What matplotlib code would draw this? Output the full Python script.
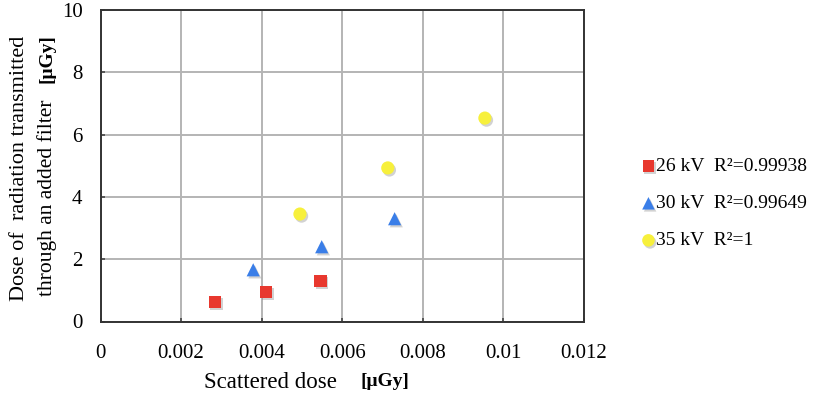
import matplotlib
matplotlib.use("Agg")
import matplotlib.pyplot as plt
import matplotlib.patheffects as pe

plt.rcParams['font.family'] = ['Liberation Serif', 'DejaVu Serif']

# Scattered dose (µGy) vs dose transmitted through the added filter (µGy)
x_26kv = [0.00284, 0.00411, 0.00546]
y_26kv = [0.63, 0.94, 1.30]
x_30kv = [0.00379, 0.00549, 0.00730]
y_30kv = [1.66, 2.40, 3.30]
x_35kv = [0.00495, 0.00713, 0.00954]
y_35kv = [3.45, 4.93, 6.53]

series_labels = ["26 kV  R²=0.99938", "30 kV  R²=0.99649", "35 kV  R²=1"]
x_ticks = [0, 0.002, 0.004, 0.006, 0.008, 0.01, 0.012]
x_tick_labels = ["0", "0.002", "0.004", "0.006", "0.008", "0.01", "0.012"]
y_ticks = [0, 2, 4, 6, 8, 10]

W, H = 817, 396
fig = plt.figure(figsize=(W / 100, H / 100), dpi=100)
ax = fig.add_axes([100.5 / W, 1 - 321.5 / H, (584 - 100.5) / W, (321.5 - 10) / H])

shadow = [pe.SimplePatchShadow(offset=(1.2, -1.5), shadow_rgbFace='0.5', alpha=0.35), pe.Normal()]
kw = dict(linewidths=0, zorder=3, clip_on=False)
s1 = ax.scatter(x_26kv, y_26kv, marker='s', s=78, color='#e8382e', **kw)
s2 = ax.scatter(x_30kv, y_30kv, marker='^', s=90, color='#3a7ee8', **kw)
s3 = ax.scatter(x_35kv, y_35kv, marker='o', s=90, color='#f7f03c', **kw)
for s in (s1, s2, s3):
    s.set_path_effects(shadow)

ax.set_xlim(0, 0.012)
ax.set_ylim(0, 10)
ax.set_xticks(x_ticks)
ax.set_xticklabels(x_tick_labels)
ax.set_yticks(y_ticks)
ax.grid(True, color='#b4b4b4', linewidth=1.4)
ax.set_axisbelow(True)
for sp in ax.spines.values():
    sp.set_color('#333333')
    sp.set_linewidth(1.4)
ax.tick_params(direction='in', length=3, width=1.2, color='#444444',
               labelsize=15, pad=16)
ax.tick_params(axis='y', pad=13)

# Axis titles, with the unit in bold
fig.text(337 / W, 1 - 382 / H, "Scattered dose", ha='right', va='center', fontsize=16.5)
fig.text(360 / W, 1 - 382 / H, "[μGy]", ha='left', va='center', fontsize=14,
         fontweight='bold')

fig.text(20 / W, 1 - 168 / H, "Dose of  radiation transmitted", rotation=90,
         ha='center', va='center', fontsize=16)
line2 = fig.text(47 / W, 1 - 296 / H, "through an added filter   ", rotation=90,
                 ha='center', va='bottom', fontsize=15.5)
fig.canvas.draw()
ext = line2.get_window_extent()
fig.text(47 / W, ext.y1 / H, "[μGy]", rotation=90, ha='center', va='bottom',
         fontsize=14, fontweight='bold')

leg = fig.legend([s1, s2, s3], series_labels, loc='upper left',
                 bbox_to_anchor=(629 / W, 1 - 148 / H), frameon=False,
                 fontsize=14, handletextpad=-0.1, handlelength=1.0,
                 labelspacing=1.0, borderpad=0, markerscale=0.95)

fig.savefig("out.png", dpi=100, facecolor='white')
